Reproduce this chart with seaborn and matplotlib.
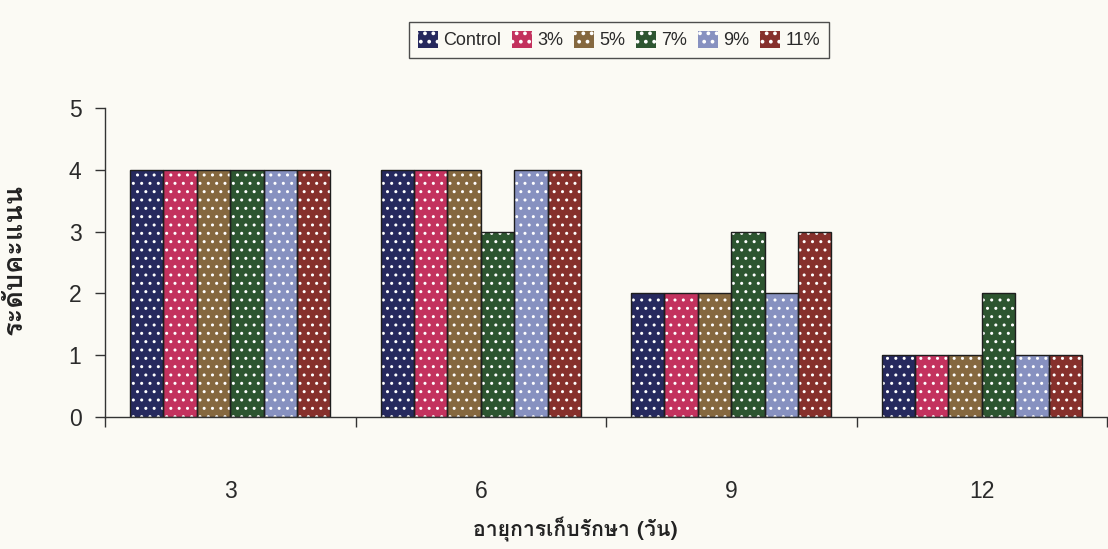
import numpy as np
import pandas as pd
import seaborn as sns
import matplotlib
matplotlib.use("Agg")
import matplotlib.pyplot as plt
from matplotlib import font_manager
from matplotlib.ft2font import FT2Font
from matplotlib.patches import Rectangle

# Storage days and treatment groups
days = ["3", "6", "9", "12"]
treatments = ["Control", "3%", "5%", "7%", "9%", "11%"]
scores = {
    "Control": [4, 4, 2, 1],
    "3%":      [4, 4, 2, 1],
    "5%":      [4, 4, 2, 1],
    "7%":      [4, 3, 3, 2],
    "9%":      [4, 4, 2, 1],
    "11%":     [4, 4, 3, 1],
}
palette = ["#26295e", "#c3325e", "#85683f", "#2d5530", "#8791c0", "#86302c"]
y_ticks = [0, 1, 2, 3, 4, 5]
x_title = "อายุการเก็บรักษา (วัน)"
y_title = "ระดับคะแนน"


def thai_family(default="DejaVu Sans"):
    """Return the first installed family that covers Thai script."""
    for fe in font_manager.fontManager.ttflist:
        try:
            if 0x0E23 in FT2Font(fe.fname).get_charmap():
                return fe.name
        except Exception:
            continue
    return default


rows = []
for t in treatments:
    for d, v in zip(days, scores[t]):
        rows.append({"day": d, "treatment": t, "score": v})
df = pd.DataFrame(rows)

sns.set_theme(style="white")
plt.rcParams["font.family"] = ["Liberation Sans", "DejaVu Sans"]
thai = thai_family()

paper = "#fbfaf4"
fig = plt.figure(figsize=(11.08, 5.49), dpi=100, facecolor=paper)
ax = fig.add_axes([105 / 1108, 1 - 417 / 549, 1002 / 1108, 309 / 549])
ax.set_facecolor(paper)

sns.barplot(data=df, x="day", y="score", hue="treatment", order=days,
            hue_order=treatments, palette=palette, width=0.8, ax=ax,
            saturation=1, legend=True)

# white dotted fill with a thin dark outline drawn on top
plt.rcParams["hatch.linewidth"] = 1.5
for p in list(ax.patches):
    if p.get_height() == 0 and p.get_width() == 0:
        continue
    p.set_hatch("..")
    p.set_edgecolor("white")
    p.set_linewidth(0)
    ax.add_patch(Rectangle((p.get_x(), p.get_y()), p.get_width(), p.get_height(),
                           fill=False, edgecolor="#1e1e1e", linewidth=1.0, zorder=p.get_zorder() + 0.1))

ax.set_xlim(-0.5, 3.5)
ax.set_ylim(0, 5)
ax.set_yticks(y_ticks)
ax.set_xticks(range(len(days)))
ax.set_xticklabels(days)
ax.set_xticks([-0.5, 0.5, 1.5, 2.5, 3.5], minor=True)
ax.tick_params(axis="x", which="major", length=0, pad=45.5, labelsize=16.5, labelcolor="#2a2a2a")
ax.tick_params(axis="x", which="minor", length=7, width=1, color="#333333", direction="out", bottom=True)
ax.tick_params(axis="y", which="major", length=7, width=1, color="#333333", direction="out", left=True,
               labelsize=16.5, labelcolor="#2a2a2a", pad=10)
ax.set_xlabel("")
ax.set_ylabel("")
for side in ("top", "right"):
    ax.spines[side].set_visible(False)
for side in ("left", "bottom"):
    ax.spines[side].set_color("#333333")
    ax.spines[side].set_linewidth(1.0)

# legend boxed across the top
handles, labels = ax.get_legend_handles_labels()
ax.legend_.remove()
for h in handles:
    h.set_hatch("..")
    h.set_edgecolor("white")
    h.set_linewidth(0)
leg = fig.legend(handles, labels, loc="center", bbox_to_anchor=(619 / 1108, 1 - 40 / 549),
                 ncol=6, frameon=True, fancybox=False, fontsize=13, handlelength=1.1,
                 handleheight=1.1, handletextpad=0.3, columnspacing=0.6, borderpad=0.5)
leg.get_frame().set_edgecolor("#222222")
leg.get_frame().set_linewidth(1.0)
leg.get_frame().set_facecolor(paper)
for t in leg.get_texts():
    t.set_color("#2a2a2a")

fig.text(575 / 1108, 1 - 530 / 549, x_title, ha="center", va="center",
         fontsize=15.3, fontweight="bold", family=[thai, "DejaVu Sans"], color="#222222")
fig.text(15 / 1108, 1 - 259 / 549, y_title, ha="center", va="center", rotation=90,
         fontsize=19.5, fontweight="bold", family=[thai, "DejaVu Sans"], color="#222222")

fig.savefig("out.png", dpi=100, facecolor=paper)
